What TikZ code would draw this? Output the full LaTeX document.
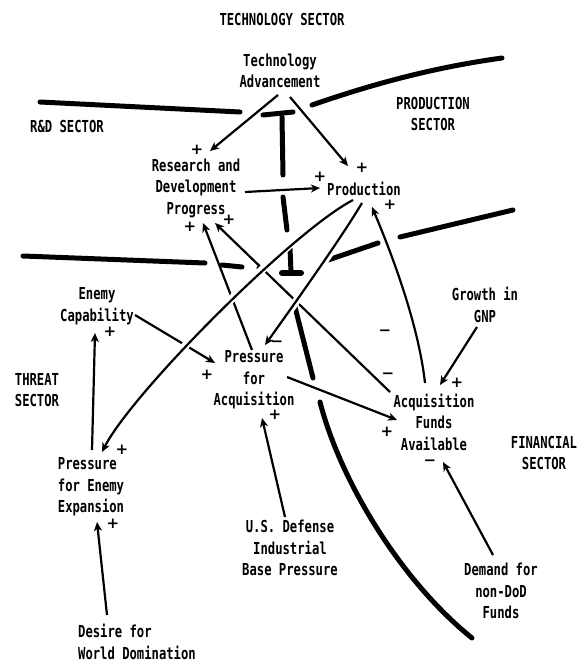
\documentclass[tikz,border=0pt]{standalone}
\usepackage{fontspec}
\newfontfamily\dotmatrix[FakeStretch=0.74]{DejaVu Sans Mono}
\newfontfamily\signfont{DejaVu Sans}
\usetikzlibrary{arrows.meta}
\begin{document}
\begin{tikzpicture}[x=1pt,y=-1pt,
  lbl/.style={font={\dotmatrix\bfseries\fontsize{16.5}{21.5}\selectfont}, align=center, inner sep=0pt},
  sgn/.style={font={\signfont\bfseries\fontsize{15}{18}\selectfont}, inner sep=0pt},
  link/.style={line width=2.2pt, -{Stealth[length=9pt,width=8pt,inset=2.5pt]}},
  curvelink/.style={link, preaction={draw=white, line width=8pt, -, shorten <=14pt, shorten >=14pt}},
  border/.style={line width=5pt, line cap=round},
]
\useasboundingbox (0,0) rectangle (582,662);

% sector boundaries
\draw[border] (40,102) -- (240,112);
\draw[border] (312,105) .. controls (370,85) and (430,68) .. (502,58);
\draw[border] (263,115) -- (293,112);
\draw[border] (282,117) -- (283,175);
\draw[border] (283,197) -- (287,230);
\draw[border] (290,248) -- (291,272);
\draw[border, line width=6pt] (282,273) -- (301,273);
\draw[border] (23,256) -- (205,263);
\draw[border] (222,265) -- (242,267);
\draw[border] (259,268) -- (263,270);
\draw[border] (328,260) -- (378,243);
\draw[border] (400,237) -- (513,210);
\draw[border] (295,307) -- (313,378);
\draw[border] (320,402) .. controls (340,480) and (400,580) .. (472,638);

% sector titles
\node[lbl] (secT) at (282,19) {TECHNOLOGY SECTOR};
\node[lbl] (secRD) at (67,126) {R\&D SECTOR};
\node[lbl] (secP) at (433,114) {PRODUCTION\\SECTOR};
\node[lbl] (secTh) at (37,390) {THREAT\\SECTOR};
\node[lbl] (secF) at (544,453) {FINANCIAL\\SECTOR};

% variables
\node[lbl] (TA) at (280,71) {Technology\\Advancement};
\node[lbl] (RD) at (196,188) {Research and\\Development\\Progress};
\node[lbl] (P) at (364,189) {Production};
\node[lbl] (EC) at (97,306) {Enemy\\Capability};
\node[lbl] (PA) at (254,380) {Pressure\\for\\Acquisition};
\node[lbl] (GNP) at (485,305) {Growth in\\GNP};
\node[lbl] (AFA) at (434,422) {Acquisition\\Funds\\Available};
\node[lbl, align=left] (PEE) at (91,487) {Pressure\\for Enemy\\Expansion};
\node[lbl] (USD) at (290,548) {U.S. Defense\\Industrial\\Base Pressure};
\node[lbl] (DND) at (501,591) {Demand for\\non-DoD\\Funds};
\node[lbl, align=left] (DWD) at (137,642) {Desire for\\World Domination};

% straight causal links
\draw[link] ([shift={(-2,24)}]TA.center) -- ([shift={(14,-37)}]RD.center);
\draw[link] ([shift={(10,26)}]TA.center) -- ([shift={(-16,-23)}]P.center);
\draw[link] ([shift={(49,4)}]RD.center) -- ([shift={(-44,-1)}]P.center);
\draw[link] ([shift={(-44,-30)}]AFA.center) -- ([shift={(19,35)}]RD.center);
\draw[link] ([shift={(-2,-30)}]PA.center) -- ([shift={(7,35)}]RD.center);
\draw[link] ([shift={(38,9)}]EC.center) -- ([shift={(-39,-17)}]PA.center);
\draw[link] ([shift={(1,-37)}]PEE.center) -- ([shift={(-2,27)}]EC.center);
\draw[link] ([shift={(33,-3)}]PA.center) -- ([shift={(-37,-2)}]AFA.center);
\draw[link] ([shift={(-8,22)}]GNP.center) -- ([shift={(6,-37)}]AFA.center);
\draw[link] ([shift={(-5,-31)}]USD.center) -- ([shift={(8,38)}]PA.center);
\draw[link] ([shift={(-8,-36)}]DND.center) -- ([shift={(9,40)}]AFA.center);
\draw[link] ([shift={(-30,-27)}]DWD.center) -- ([shift={(6,35)}]PEE.center);

% curved causal links
\draw[curvelink] ([shift={(-11,11)}]P.center) .. controls (292,232) and (132,393) .. ([shift={(11,-35)}]PEE.center);
\draw[curvelink] ([shift={(-2,14)}]P.center) .. controls (340,240) and (290,310) .. ([shift={(11,-35)}]PA.center);
\draw[curvelink] ([shift={(-9,-39)}]AFA.center) .. controls (418,320) and (388,245) .. ([shift={(8,18)}]P.center);

% link polarities
\node[sgn] (s1) at (197,150) {+};
\node[sgn] (s2) at (362,168) {+};
\node[sgn] (s3) at (320,177) {+};
\node[sgn] (s4) at (122,450) {+};
\node[sgn] (s5) at (390,205) {+};
\node[sgn] (s6) at (229,220) {+};
\node[sgn] (s7) at (190,227) {+};
\node[sgn] (s8) at (207,375) {+};
\node[sgn] (s9) at (110,332) {+};
\node[sgn] (s10) at (387,432) {+};
\node[sgn] (s11) at (457,383) {+};
\node[sgn] (s12) at (275,415) {+};
\node[sgn] (s13) at (113,524) {+};
\node[sgn] (m1) at (277,344) {−};
\node[sgn] (m2) at (430,463) {−};
\node[sgn] (m3) at (385,333) {−};
\node[sgn] (m4) at (388,376) {−};
\end{tikzpicture}
\end{document}
